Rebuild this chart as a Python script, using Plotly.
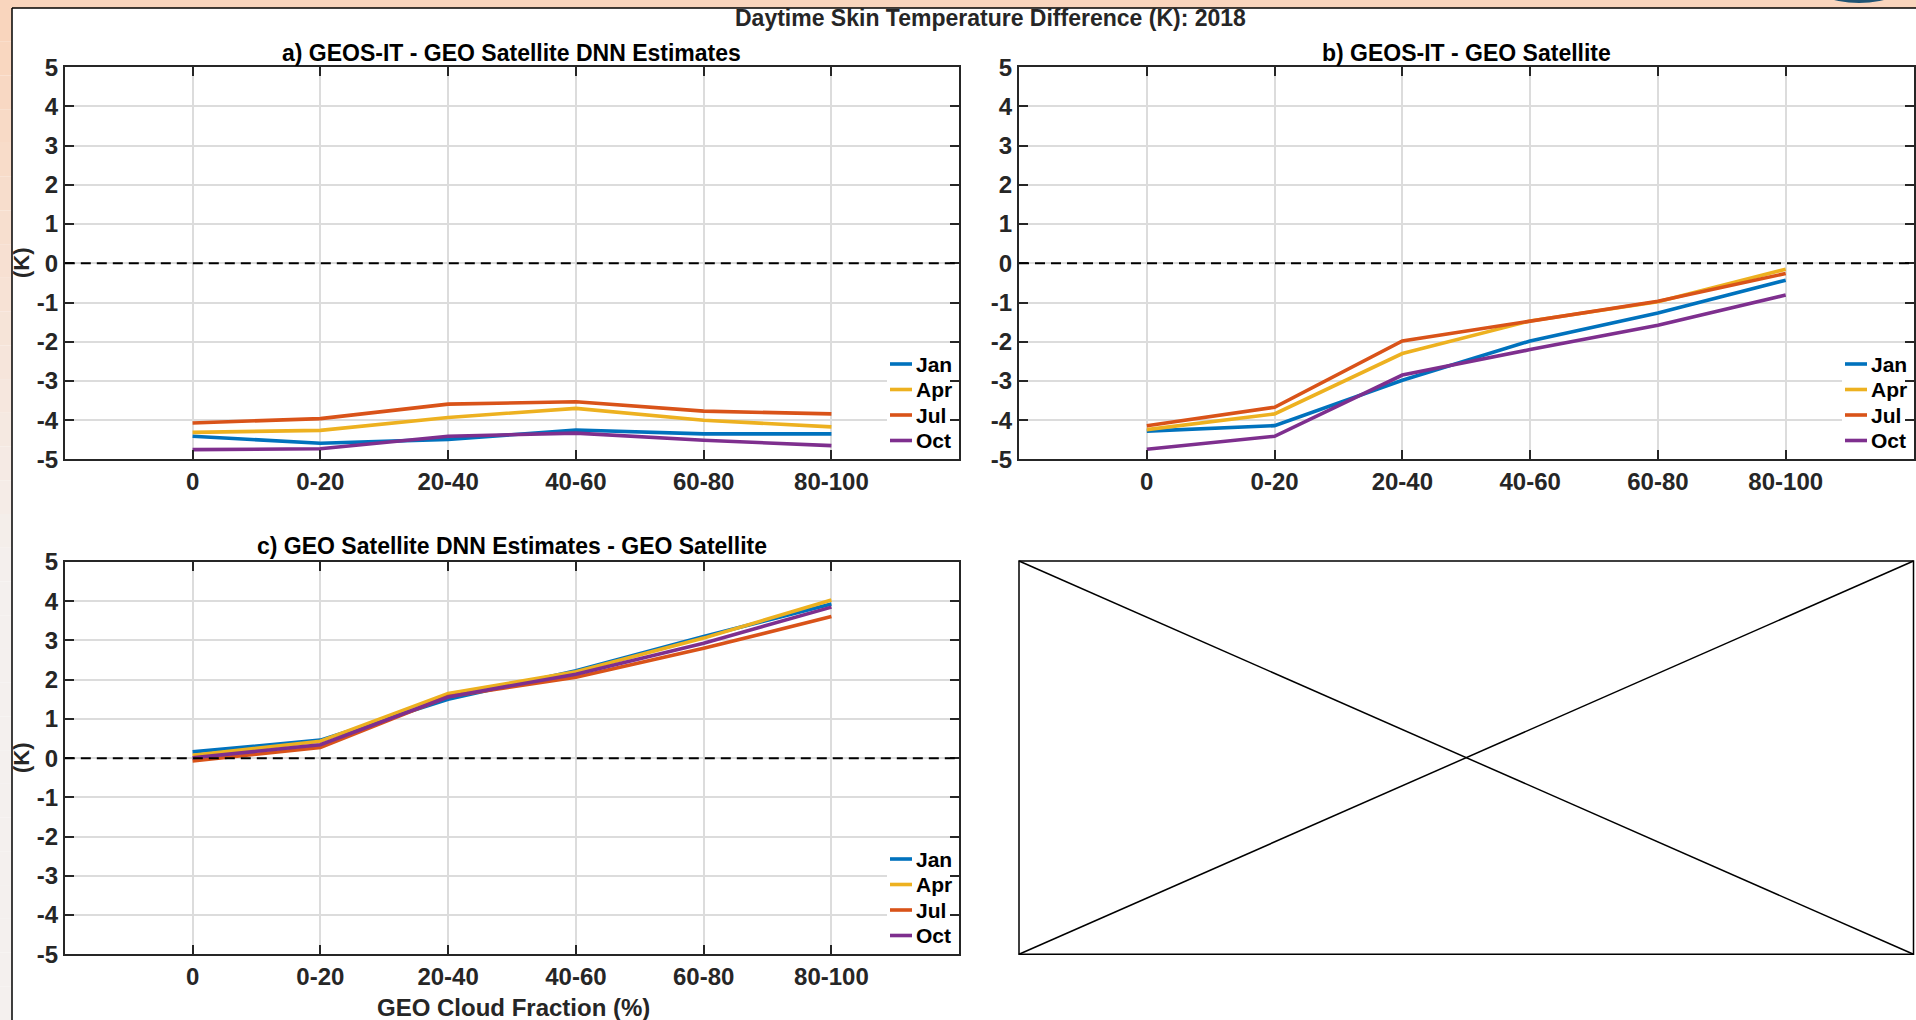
import plotly.graph_objects as go

# ---------------- data ----------------
categories = ["0", "0-20", "20-40", "40-60", "60-80", "80-100"]
months = ["Jan", "Apr", "Jul", "Oct"]
colors = {"Jan": "#0072BD", "Apr": "#EDB120", "Jul": "#D95319", "Oct": "#7E2F8E"}

# a) GEOS-IT - GEO Satellite DNN Estimates
a_jan = [-4.41, -4.59, -4.49, -4.25, -4.35, -4.35]
a_apr = [-4.31, -4.26, -3.93, -3.70, -4.00, -4.17]
a_jul = [-4.07, -3.96, -3.59, -3.53, -3.77, -3.84]
a_oct = [-4.75, -4.73, -4.41, -4.33, -4.51, -4.65]

# b) GEOS-IT - GEO Satellite
b_jan = [-4.28, -4.14, -2.98, -1.98, -1.27, -0.43]
b_apr = [-4.24, -3.84, -2.30, -1.47, -0.98, -0.15]
b_jul = [-4.14, -3.67, -1.98, -1.47, -0.97, -0.26]
b_oct = [-4.74, -4.41, -2.85, -2.20, -1.58, -0.81]

# c) GEO Satellite DNN Estimates - GEO Satellite
c_jan = [0.16, 0.46, 1.50, 2.23, 3.10, 3.93]
c_apr = [0.07, 0.43, 1.65, 2.20, 3.06, 4.03]
c_jul = [-0.07, 0.27, 1.57, 2.06, 2.80, 3.61]
c_oct = [0.01, 0.34, 1.56, 2.14, 2.93, 3.85]

y_ticks = [-5, -4, -3, -2, -1, 0, 1, 2, 3, 4, 5]
y_ticktext = [str(v) for v in y_ticks]

main_title = "Daytime Skin Temperature Difference (K): 2018"
titles = ["a) GEOS-IT - GEO Satellite DNN Estimates",
          "b) GEOS-IT - GEO Satellite",
          "c) GEO Satellite DNN Estimates - GEO Satellite"]
x_label = "GEO Cloud Fraction (%)"
y_label = "(K)"

panels = [
    ("x", "y", {"Jan": a_jan, "Apr": a_apr, "Jul": a_jul, "Oct": a_oct}),
    ("x2", "y2", {"Jan": b_jan, "Apr": b_apr, "Jul": b_jul, "Oct": b_oct}),
    ("x3", "y3", {"Jan": c_jan, "Apr": c_apr, "Jul": c_jul, "Oct": c_oct}),
]

# ---------------- layout geometry ----------------
W, H = 1916, 1020
FONT = "Liberation Sans, Arial, Helvetica, sans-serif"
AX = "#262626"


def px_x(v):
    return v / W


def px_y(v):
    return 1 - v / H


fig = go.Figure()

for xa, ya, series in panels:
    for m in months:
        fig.add_trace(go.Scatter(
            x=categories, y=series[m], mode="lines", name=m,
            line=dict(color=colors[m], width=3.6),
            xaxis=xa, yaxis=ya, showlegend=False,
        ))

left_dom = [px_x(64.8), px_x(959.2)]
right_dom = [px_x(1019), px_x(1913.5)]
top_dom = [px_y(459.4), px_y(67.2)]
bot_dom = [px_y(954.3), px_y(562)]

xcommon = dict(
    type="category", range=[-1, 6], showline=True, linecolor=AX, linewidth=2,
    mirror="ticks", ticks="inside", ticklen=9, tickwidth=2, tickcolor=AX,
    showgrid=True, gridcolor="#DCDCDC", gridwidth=1.5, zeroline=False,
    tickfont=dict(family=FONT, size=24, color="#262626", weight="bold"),
    ticklabelstandoff=0, fixedrange=True, automargin=False,
)
ycommon = dict(
    range=[-5, 5], tickmode="array", tickvals=y_ticks, ticktext=y_ticktext,
    showline=True, linecolor=AX, linewidth=2, mirror="ticks", ticks="inside",
    ticklen=9, tickwidth=2, tickcolor=AX, showgrid=True, gridcolor="#DCDCDC",
    gridwidth=1.5, zeroline=False,
    tickfont=dict(family=FONT, size=24, color="#262626", weight="bold"),
    ticklabelstandoff=0, fixedrange=True, automargin=False,
)

shapes = []
# slide background strips (peach top, gradient left)
shapes.append(dict(type="rect", xref="paper", yref="paper", x0=0, x1=1,
                   y0=px_y(8), y1=1, fillcolor="#F9D5BD", line=dict(width=0), layer="above"))
n_bands = 30
peach = (249, 213, 189)
grey = (244, 240, 238)
for i in range(n_bands):
    t = min(1.0, i / (n_bands * 0.55))
    col = tuple(int(round(peach[k] + (grey[k] - peach[k]) * t)) for k in range(3))
    y_top = 8 + (H - 8) * i / n_bands
    y_bot = 8 + (H - 8) * (i + 1) / n_bands
    shapes.append(dict(type="rect", xref="paper", yref="paper", x0=0, x1=px_x(12),
                       y0=px_y(y_bot), y1=px_y(y_top),
                       fillcolor="rgb(%d,%d,%d)" % col, line=dict(width=0), layer="above"))
shapes.append(dict(type="line", xref="paper", yref="paper", x0=px_x(12), x1=1,
                   y0=px_y(8), y1=px_y(8), line=dict(color="black", width=1.5)))
shapes.append(dict(type="line", xref="paper", yref="paper", x0=px_x(12), x1=px_x(12),
                   y0=0, y1=px_y(8), line=dict(color="black", width=1.5)))
# logo fragment at top-right
shapes.append(dict(type="circle", xref="paper", yref="paper", x0=px_x(1754), x1=px_x(1964),
                   y0=px_y(3), y1=px_y(-207), fillcolor="#1F5373", line=dict(width=0)))

# zero dashed lines
for xa, ya in [("x", "y"), ("x2", "y2"), ("x3", "y3")]:
    shapes.append(dict(type="line", xref=xa + " domain", yref=ya, x0=0, x1=1, y0=0, y1=0,
                       line=dict(color="black", width=2, dash="10px,6px")))

# empty placeholder panel d
d_x0, d_x1, d_y0, d_y1 = px_x(1019), px_x(1913.5), px_y(954.3), px_y(561)
shapes.append(dict(type="rect", xref="paper", yref="paper", x0=d_x0, x1=d_x1, y0=d_y0, y1=d_y1,
                   line=dict(color="black", width=1.5), fillcolor="rgba(0,0,0,0)"))
shapes.append(dict(type="line", xref="paper", yref="paper", x0=d_x0, x1=d_x1, y0=d_y1, y1=d_y0,
                   line=dict(color="black", width=1.5)))
shapes.append(dict(type="line", xref="paper", yref="paper", x0=d_x0, x1=d_x1, y0=d_y0, y1=d_y1,
                   line=dict(color="black", width=1.5)))


def ann(text, x, y, size, color="black", angle=0):
    return dict(text=text, x=px_x(x), y=px_y(y), xref="paper", yref="paper",
                xanchor="center", yanchor="middle", showarrow=False, textangle=angle,
                font=dict(family=FONT, size=size, color=color, weight="bold"))


annotations = [
    ann(main_title, 990, 18, 23, "#262626"),
    ann(titles[0], 512, 52.5, 23),
    ann(titles[1], 1466, 52.5, 23),
    ann(titles[2], 512, 546, 23),
    ann(y_label, 21, 263, 22, "#262626", -90),
    ann(y_label, 21, 758, 22, "#262626", -90),
    ann(x_label, 513, 1007, 24, "#262626"),
]

# legends (MATLAB-style: short line sample + bold text on white box)
legend_specs = [  # (line x0, line x1, first row y) in page pixels
    (890, 912, 364),
    (1845, 1867, 364),
    (890, 912, 859),
]
row_step = 25.5
for lx0, lx1, ly0 in legend_specs:
    shapes.append(dict(type="rect", xref="paper", yref="paper",
                       x0=px_x(lx0 - 3), x1=px_x(lx1 + 38),
                       y0=px_y(ly0 + 3 * row_step + 13), y1=px_y(ly0 - 13),
                       fillcolor="white", line=dict(width=0), layer="above"))
    for i, m in enumerate(months):
        yy = ly0 + i * row_step
        shapes.append(dict(type="line", xref="paper", yref="paper",
                           x0=px_x(lx0), x1=px_x(lx1), y0=px_y(yy), y1=px_y(yy),
                           line=dict(color=colors[m], width=3.6), layer="above"))
        annotations.append(dict(text=m, x=px_x(lx1 + 2), y=px_y(yy), xref="paper", yref="paper",
                                xanchor="left", yanchor="middle", showarrow=False,
                                font=dict(family=FONT, size=21, color="black", weight="bold")))

fig.update_layout(
    template="none",
    width=W, height=H, margin=dict(l=0, r=0, t=0, b=0, pad=0),
    paper_bgcolor="white", plot_bgcolor="white", showlegend=False,
    xaxis=dict(domain=left_dom, anchor="y", **xcommon),
    yaxis=dict(domain=top_dom, anchor="x", **ycommon),
    xaxis2=dict(domain=right_dom, anchor="y2", **xcommon),
    yaxis2=dict(domain=top_dom, anchor="x2", **ycommon),
    xaxis3=dict(domain=left_dom, anchor="y3", **xcommon),
    yaxis3=dict(domain=bot_dom, anchor="x3", **ycommon),
    shapes=shapes, annotations=annotations, hovermode=False,
)

fig.write_html("out.html", config=dict(displayModeBar=False),
               post_script="document.body.style.margin='0';document.body.style.overflow='hidden';")
